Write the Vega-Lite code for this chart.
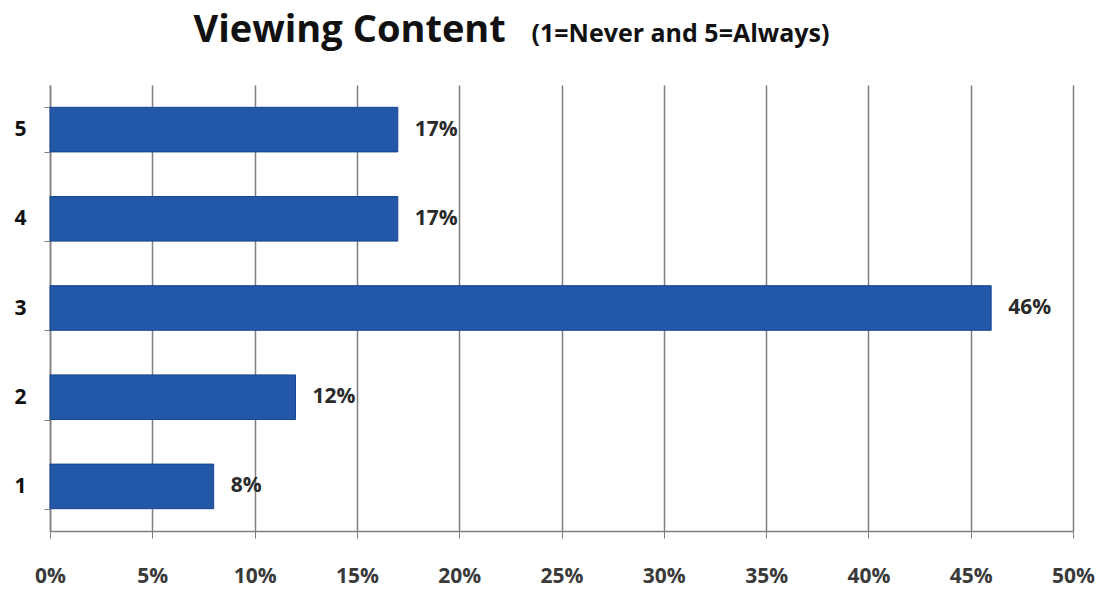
{
  "$schema": "https://vega.github.io/schema/vega-lite/v6.json",
  "width": 1023,
  "height": 446,
  "autosize": "none",
  "padding": {"left": 50, "top": 85, "right": 36, "bottom": 61},
  "background": "white",
  "data": {
    "values": [
      {"rating": "1", "pct": 0.08},
      {"rating": "2", "pct": 0.12},
      {"rating": "3", "pct": 0.46},
      {"rating": "4", "pct": 0.17},
      {"rating": "5", "pct": 0.17}
    ]
  },
  "layer": [
    {
      "mark": {"type": "bar", "color": "#2357a8", "stroke": "#1a468f", "strokeWidth": 1},
      "encoding": {
        "y": {
          "field": "rating",
          "type": "ordinal",
          "sort": "descending",
          "scale": {"paddingInner": 0.5, "paddingOuter": 0.25},
          "axis": {
            "title": "Viewing Content",
            "titleFont": "Open Sans",
            "titleFontWeight": "bold",
            "titleFontSize": 38,
            "titleColor": "#111111",
            "titleAngle": 0,
            "titleX": 143,
            "titleY": -44,
            "titleAlign": "left",
            "titleAnchor": null,
            "titleBaseline": "alphabetic",
            "tickBand": "extent",
            "tickSize": 6,
            "tickColor": "#7f7f7f",
            "domainColor": "#7f7f7f",
            "domainWidth": 1.5,
            "labelFont": "Open Sans",
            "labelFontWeight": "bold",
            "labelFontSize": 21,
            "labelColor": "#111111",
            "labelPadding": 18,
            "grid": false
          }
        },
        "x": {
          "field": "pct",
          "type": "quantitative",
          "scale": {"domain": [0, 0.5], "nice": false},
          "axis": {
            "title": null,
            "values": [0, 0.05, 0.1, 0.15, 0.2, 0.25, 0.3, 0.35, 0.4, 0.45, 0.5],
            "format": ".0%",
            "labelFlush": false,
            "grid": true,
            "gridColor": "#7f7f7f",
            "gridWidth": 1.5,
            "domainColor": "#7f7f7f",
            "domainWidth": 1.5,
            "tickColor": "#7f7f7f",
            "tickSize": 7,
            "labelFont": "Open Sans",
            "labelFontWeight": "bold",
            "labelFontSize": 21,
            "labelColor": "#3a3a3a",
            "labelPadding": 27
          }
        }
      }
    },
    {
      "mark": {"type": "text", "align": "left", "baseline": "middle", "dx": 17, "font": "Open Sans", "fontWeight": "bold", "fontSize": 21, "color": "#2a2a2a"},
      "encoding": {
        "y": {"field": "rating", "type": "ordinal", "sort": "descending"},
        "x": {
          "field": "pct",
          "type": "quantitative",
          "axis": {
            "orient": "top",
            "title": "(1=Never and 5=Always)",
            "titleFont": "Open Sans",
            "titleFontWeight": "bold",
            "titleFontSize": 25,
            "titleColor": "#111111",
            "titleX": 481,
            "titleY": -44,
            "titleAlign": "left",
            "titleAnchor": null,
            "titleBaseline": "alphabetic",
            "labels": false,
            "ticks": false,
            "domain": false,
            "grid": false
          }
        },
        "text": {"field": "pct", "format": ".0%"}
      }
    }
  ],
  "resolve": {"axis": {"x": "independent"}},
  "config": {"view": {"stroke": null}}
}
